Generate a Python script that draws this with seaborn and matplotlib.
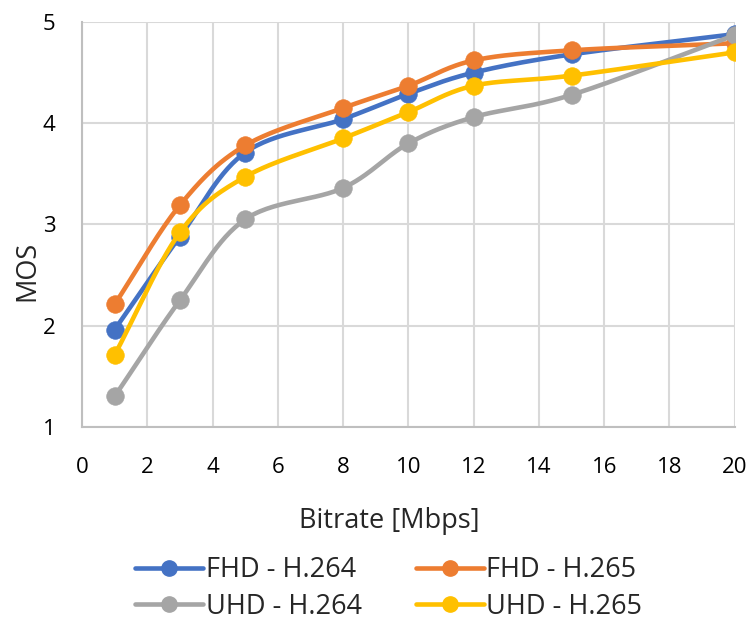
import numpy as np
import pandas as pd
import matplotlib
matplotlib.use("Agg")
import matplotlib.pyplot as plt
from matplotlib.lines import Line2D
import seaborn as sns

bitrate = [1, 3, 5, 8, 10, 12, 15, 20]
fhd_h264 = [1.96, 2.88, 3.71, 4.04, 4.29, 4.50, 4.68, 4.88]
fhd_h265 = [2.21, 3.19, 3.78, 4.15, 4.37, 4.62, 4.72, 4.79]
uhd_h264 = [1.30, 2.25, 3.05, 3.36, 3.80, 4.06, 4.28, 4.87]
uhd_h265 = [1.71, 2.92, 3.47, 3.85, 4.11, 4.37, 4.47, 4.70]
series_names = ["FHD - H.264", "FHD - H.265", "UHD - H.264", "UHD - H.265"]
colors = ["#4472C4", "#ED7D31", "#A5A5A5", "#FFC000"]
x_ticks = [0, 2, 4, 6, 8, 10, 12, 14, 16, 18, 20]
y_ticks = [1, 2, 3, 4, 5]


def smooth(xs, ys, n=30):
    # Catmull-Rom style rendering of the line between the data points
    xs = np.asarray(xs, float); ys = np.asarray(ys, float)
    px = np.concatenate([[2 * xs[0] - xs[1]], xs, [2 * xs[-1] - xs[-2]]])
    py = np.concatenate([[2 * ys[0] - ys[1]], ys, [2 * ys[-1] - ys[-2]]])
    ox, oy = [], []
    for i in range(1, len(px) - 2):
        p0, p1, p2, p3 = [np.array([px[j], py[j]]) for j in (i - 1, i, i + 1, i + 2)]
        c1 = p1 + (p2 - p0) / 6.0
        c2 = p2 - (p3 - p1) / 6.0
        t = np.linspace(0, 1, n, endpoint=(i == len(px) - 3))
        b = ((1 - t) ** 3)[:, None] * p1 + (3 * (1 - t) ** 2 * t)[:, None] * c1 \
            + (3 * (1 - t) * t ** 2)[:, None] * c2 + (t ** 3)[:, None] * p2
        ox.extend(b[:, 0]); oy.extend(b[:, 1])
    return np.array(ox), np.array(oy)


sns.set_theme(style="white")
plt.rcParams["font.family"] = ["Open Sans", "DejaVu Sans"]

fig = plt.figure(figsize=(7.49, 6.23), dpi=100)
ax = fig.add_axes([0.1095, 0.315, 0.8715, 0.6497])

all_series = [fhd_h264, fhd_h265, uhd_h264, uhd_h265]
for k, (name, vals, col) in enumerate(zip(series_names, all_series, colors)):
    sx, sy = smooth(bitrate, vals)
    dfl = pd.DataFrame({"x": sx, "y": sy})
    sns.lineplot(data=dfl, x="x", y="y", ax=ax, color=col, linewidth=3.3,
                 sort=False, estimator=None, zorder=3 + 2 * k)
    dfp = pd.DataFrame({"x": bitrate, "y": vals})
    sns.scatterplot(data=dfp, x="x", y="y", ax=ax, color=col, s=160,
                    edgecolor=col, linewidth=0.5, zorder=4 + 2 * k)

ax.set_xlim(0, 20)
ax.set_ylim(1, 5)
ax.set_xticks(x_ticks)
ax.set_yticks(y_ticks)
ax.grid(True, color="#D9D9D9", linewidth=1.5)
ax.set_axisbelow(True)
for s in ["top", "right"]:
    ax.spines[s].set_visible(False)
for s in ["left", "bottom"]:
    ax.spines[s].set_color("#BFBFBF")
    ax.spines[s].set_linewidth(1.5)
ax.tick_params(axis="both", labelsize=16, colors="#000000", length=0)
ax.tick_params(axis="x", pad=22)
ax.tick_params(axis="y", pad=19)

ax.set_xlabel("Bitrate [Mbps]", fontsize=19.5)
ax.xaxis.label.set_verticalalignment("center")
ax.xaxis.set_label_coords(0.47, -0.232)
ax.set_ylabel("MOS", fontsize=19.5)
ax.yaxis.label.set_verticalalignment("center")
ax.yaxis.set_label_coords(-0.083, 0.385)

handles = [Line2D([0], [0], color=c, linewidth=3.3, marker="o", markersize=11)
           for c in colors]
order = [0, 2, 1, 3]
fig.legend([handles[i] for i in order], [series_names[i] for i in order],
           loc="center", bbox_to_anchor=(0.519, 0.0554), ncol=2, frameon=False,
           fontsize=19.5, handlelength=2.5, columnspacing=2.0, labelspacing=0.3,
           handletextpad=0.1, borderpad=0.1)

fig.savefig("out.png", dpi=100)
